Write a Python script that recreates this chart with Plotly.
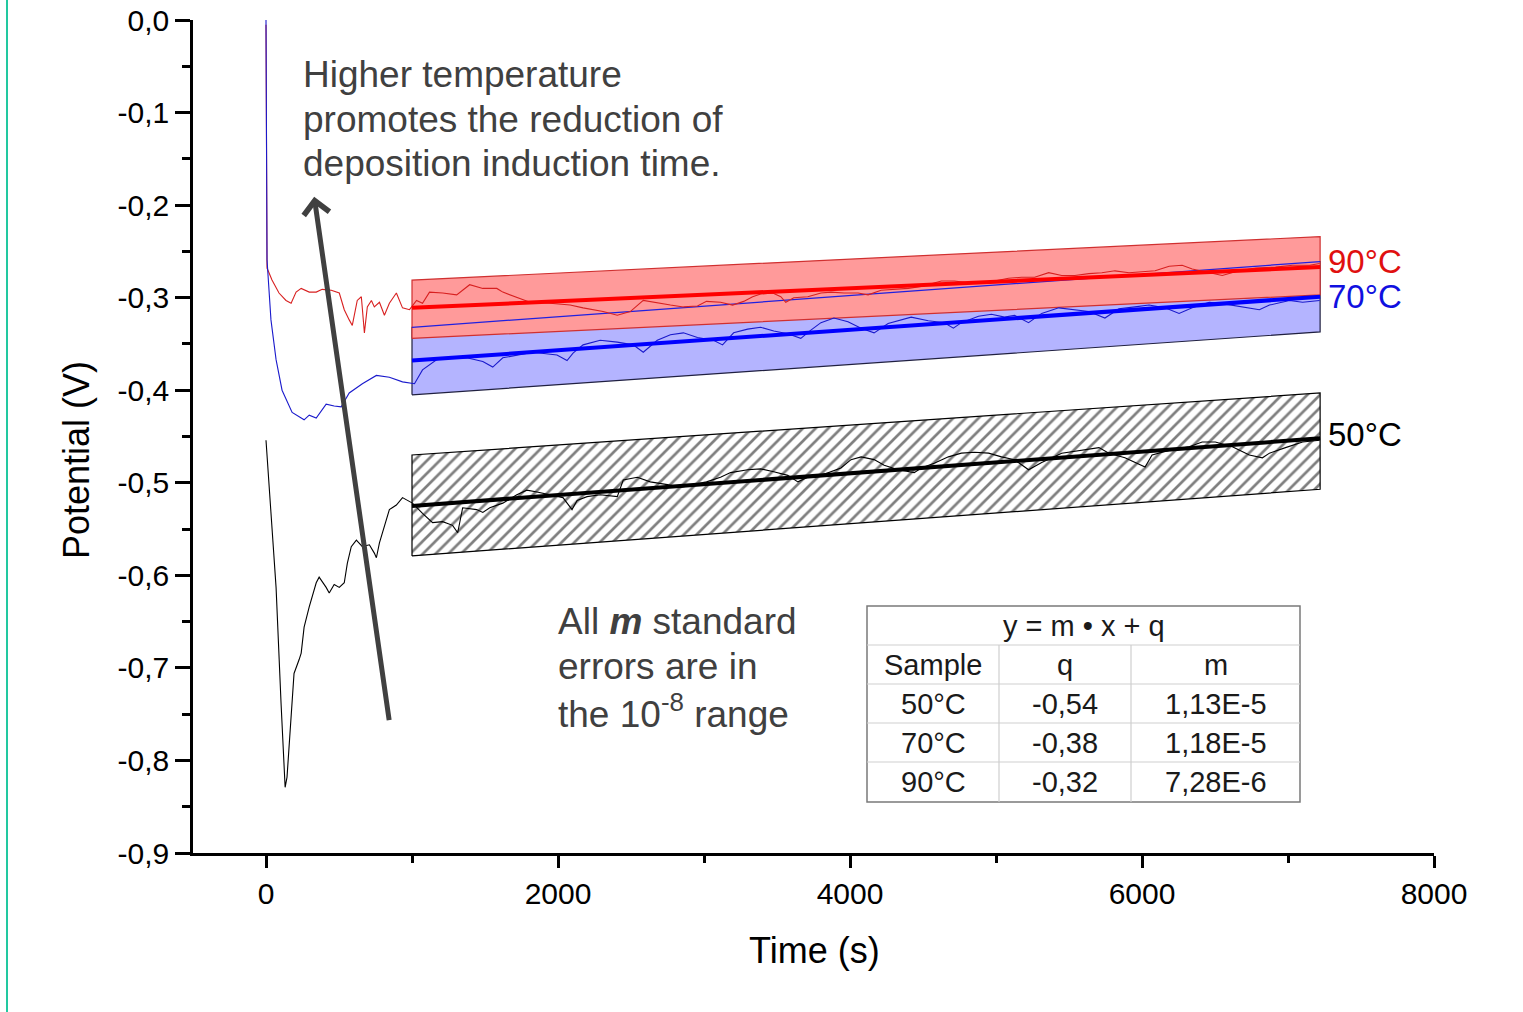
import plotly.graph_objects as go

# ---------------- data ----------------
t50 = [0, 21, 69, 103, 124, 131, 144, 172, 192, 227, 241, 261, 296, 344, 364, 412, 433, 467, 502, 536,
       557, 584, 619, 660, 708, 742, 756, 777, 811, 845, 893, 935, 969, 1003, 1072, 1141, 1210, 1278,
       1313, 1347, 1443, 1485, 1533, 1622, 1718, 1787, 1856, 1945, 2034, 2096, 2131, 2199, 2289, 2406,
       2447, 2543, 2632, 2749, 2838, 2928, 3017, 3113, 3182, 3299, 3388, 3478, 3574, 3643, 3711, 3801,
       3869, 3938, 4007, 4076, 4165, 4234, 4330, 4440, 4488, 4577, 4674, 4763, 4852, 4949, 5038, 5127,
       5223, 5313, 5450, 5588, 5705, 5773, 5883, 6021, 6069, 6186, 6323, 6412, 6502, 6619, 6735, 6825,
       6873, 6983, 7100, 7217]
v50 = [-0.454, -0.505, -0.613, -0.738, -0.821, -0.829, -0.818, -0.756, -0.706, -0.691, -0.684, -0.656,
       -0.634, -0.608, -0.602, -0.613, -0.619, -0.610, -0.613, -0.608, -0.587, -0.569, -0.562, -0.569,
       -0.567, -0.576, -0.581, -0.565, -0.548, -0.529, -0.524, -0.516, -0.519, -0.522, -0.533, -0.543,
       -0.542, -0.546, -0.554, -0.527, -0.529, -0.532, -0.527, -0.522, -0.513, -0.508, -0.510, -0.513,
       -0.516, -0.529, -0.519, -0.515, -0.513, -0.515, -0.497, -0.494, -0.499, -0.502, -0.505, -0.502,
       -0.499, -0.494, -0.489, -0.486, -0.485, -0.488, -0.492, -0.499, -0.494, -0.492, -0.488, -0.484,
       -0.475, -0.472, -0.475, -0.481, -0.486, -0.489, -0.484, -0.479, -0.472, -0.468, -0.467, -0.468,
       -0.472, -0.475, -0.486, -0.478, -0.468, -0.465, -0.462, -0.468, -0.473, -0.483, -0.470, -0.465,
       -0.461, -0.456, -0.456, -0.461, -0.470, -0.473, -0.468, -0.462, -0.456, -0.454]

t70 = [0, 3, 7, 34, 69, 110, 179, 261, 296, 344, 412, 467, 515, 570, 660, 756, 845, 935, 1017, 1072,
       1168, 1258, 1375, 1485, 1553, 1622, 1828, 1993, 2062, 2103, 2172, 2289, 2406, 2515, 2584, 2680,
       2770, 2859, 2955, 3065, 3127, 3203, 3299, 3388, 3478, 3574, 3663, 3732, 3801, 3890, 3986, 4076,
       4165, 4261, 4351, 4419, 4536, 4646, 4708, 4763, 4880, 4969, 5059, 5127, 5223, 5313, 5430, 5519,
       5636, 5746, 5842, 5952, 6048, 6158, 6254, 6344, 6461, 6571, 6687, 6804, 6873, 7010, 7100, 7217]
v70 = [0.000, -0.194, -0.259, -0.324, -0.367, -0.400, -0.424, -0.432, -0.427, -0.430, -0.415, -0.417,
       -0.418, -0.403, -0.393, -0.384, -0.386, -0.391, -0.393, -0.378, -0.367, -0.365, -0.365, -0.369,
       -0.375, -0.365, -0.359, -0.362, -0.368, -0.360, -0.351, -0.346, -0.348, -0.351, -0.359, -0.346,
       -0.340, -0.338, -0.343, -0.346, -0.351, -0.338, -0.334, -0.332, -0.336, -0.339, -0.344, -0.335,
       -0.327, -0.322, -0.326, -0.333, -0.338, -0.328, -0.324, -0.321, -0.325, -0.327, -0.333, -0.327,
       -0.320, -0.318, -0.321, -0.319, -0.327, -0.317, -0.311, -0.313, -0.315, -0.322, -0.312, -0.310,
       -0.308, -0.311, -0.317, -0.311, -0.305, -0.307, -0.310, -0.313, -0.308, -0.303, -0.305, -0.303]

t90 = [0, 7, 41, 89, 137, 172, 206, 241, 296, 344, 385, 447, 502, 536, 570, 591, 625, 653, 674, 694,
       722, 742, 777, 811, 845, 893, 935, 983, 1031, 1072, 1120, 1210, 1306, 1395, 1485, 1581, 1622,
       1718, 1808, 1945, 2083, 2172, 2309, 2406, 2495, 2584, 2680, 2770, 2859, 2955, 3017, 3113, 3196,
       3272, 3333, 3388, 3471, 3526, 3560, 3615, 3711, 3801, 3869, 3959, 4055, 4124, 4213, 4302, 4399,
       4488, 4626, 4715, 4811, 4900, 4990, 5086, 5175, 5265, 5361, 5450, 5540, 5636, 5725, 5815, 5911,
       6000, 6090, 6186, 6275, 6344, 6461, 6550, 6639, 6777, 6914, 7031, 7148, 7217]
v90 = [-0.005, -0.268, -0.281, -0.295, -0.303, -0.306, -0.294, -0.290, -0.294, -0.294, -0.291, -0.292,
       -0.295, -0.313, -0.324, -0.330, -0.303, -0.299, -0.338, -0.310, -0.303, -0.310, -0.305, -0.319,
       -0.306, -0.295, -0.311, -0.313, -0.303, -0.306, -0.294, -0.295, -0.297, -0.286, -0.290, -0.290,
       -0.294, -0.300, -0.305, -0.306, -0.308, -0.311, -0.315, -0.319, -0.315, -0.303, -0.306, -0.308,
       -0.310, -0.309, -0.304, -0.305, -0.308, -0.304, -0.299, -0.296, -0.295, -0.299, -0.305, -0.300,
       -0.299, -0.295, -0.294, -0.295, -0.295, -0.297, -0.292, -0.291, -0.290, -0.288, -0.282, -0.282,
       -0.284, -0.283, -0.282, -0.279, -0.278, -0.278, -0.273, -0.276, -0.276, -0.274, -0.273, -0.271,
       -0.273, -0.272, -0.271, -0.266, -0.265, -0.269, -0.273, -0.276, -0.272, -0.268, -0.267, -0.265,
       -0.265, -0.263]

# fitted lines and confidence bands (start / end of fit window)
fit_t = [1000, 7220]
fit50 = [-0.525, -0.452]
fit70 = [-0.368, -0.299]
fit90 = [-0.311, -0.267]
band50_hi = [-0.470, -0.403]
band50_lo = [-0.579, -0.507]
band70_hi = [-0.332, -0.261]
band70_lo = [-0.405, -0.337]
band90_hi = [-0.281, -0.234]
band90_lo = [-0.344, -0.297]

# table
table_title = "y = m \u2022 x + q"
table_head = ["Sample", "q", "m"]
table_samples = ["50\u00b0C", "70\u00b0C", "90\u00b0C"]
table_q = ["-0,54", "-0,38", "-0,32"]
table_m = ["1,13E-5", "1,18E-5", "7,28E-6"]

ytick_vals = [0.0, -0.1, -0.2, -0.3, -0.4, -0.5, -0.6, -0.7, -0.8, -0.9]
ytick_text = ["0,0", "-0,1", "-0,2", "-0,3", "-0,4", "-0,5", "-0,6", "-0,7", "-0,8", "-0,9"]
yminor_vals = [-0.05, -0.15, -0.25, -0.35, -0.45, -0.55, -0.65, -0.75, -0.85]

# ---------------- layout helpers ----------------
W, H = 1523, 1012
L, R, T, B = 193, 89, 20, 159
PW, PH = W - L - R, H - T - B


def px_x(px):
    return (px - L) / PW


def px_y(py):
    return (H - B - py) / PH


def band(xs, lo, hi):
    return [xs[0], xs[1], xs[1], xs[0], xs[0]], [lo[0], lo[1], hi[1], hi[0], lo[0]]


FONT = "Liberation Sans, Arial, sans-serif"
GREY = "#404040"

fig = go.Figure()

bx, by = band(fit_t, band70_lo, band70_hi)
fig.add_trace(go.Scatter(x=bx, y=by, fill="toself", fillcolor="#b4b4ff", mode="lines",
                         line=dict(color="#202040", width=1.2), hoverinfo="skip"))
bx, by = band(fit_t, band90_lo, band90_hi)
fig.add_trace(go.Scatter(x=bx, y=by, fill="toself", fillcolor="#ff9a9a", mode="lines",
                         line=dict(color="#d03030", width=1.2), hoverinfo="skip"))
bx, by = band(fit_t, band50_lo, band50_hi)
fig.add_trace(go.Scatter(x=bx, y=by, fill="toself", mode="lines",
                         fillpattern=dict(shape="/", size=9, solidity=0.3, fgcolor="black", bgcolor="white"),
                         line=dict(color="black", width=1.2), hoverinfo="skip"))
fig.add_trace(go.Scatter(x=fit_t, y=band70_hi, mode="lines", line=dict(color="#2020e0", width=1.2)))

fig.add_trace(go.Scatter(x=t50, y=v50, mode="lines", line=dict(color="black", width=1.1), name="50°C"))
fig.add_trace(go.Scatter(x=t90, y=v90, mode="lines", line=dict(color="#d82020", width=1.1), name="90°C"))
fig.add_trace(go.Scatter(x=t70, y=v70, mode="lines", line=dict(color="#1a1acc", width=1.1), name="70°C"))

fig.add_trace(go.Scatter(x=fit_t, y=fit50, mode="lines", line=dict(color="black", width=4)))
fig.add_trace(go.Scatter(x=fit_t, y=fit70, mode="lines", line=dict(color="#0000ff", width=4)))
fig.add_trace(go.Scatter(x=fit_t, y=fit90, mode="lines", line=dict(color="#ff0000", width=4)))

annotations = []
# arrow
annotations.append(dict(x=330, y=-0.191, ax=845, ay=-0.758, xref="x", yref="y", axref="x", ayref="y",
                        text="", showarrow=True, arrowhead=4, arrowsize=1.0, arrowwidth=5,
                        arrowcolor=GREY, standoff=0))
# text blocks
for txt, cy in zip(["Higher temperature", "promotes the reduction of", "deposition induction time."],
                   [75, 120, 164]):
    annotations.append(dict(x=px_x(301), y=px_y(cy), xref="paper", yref="paper", xanchor="left",
                            yanchor="middle", text=txt, showarrow=False,
                            font=dict(family=FONT, size=37, color=GREY)))
for txt, cy in zip(["All <b><i>m</i></b> standard", "errors are in", "the 10<sup>-8</sup> range"],
                   [621, 666, 711]):
    annotations.append(dict(x=px_x(556), y=px_y(cy), xref="paper", yref="paper", xanchor="left",
                            yanchor="middle", text=txt, showarrow=False,
                            font=dict(family=FONT, size=37, color=GREY)))
# series labels
for txt, cy, col in zip(["90°C", "70°C", "50°C"], [261, 297, 434], ["#e01010", "#1010e0", "black"]):
    annotations.append(dict(x=px_x(1326), y=px_y(cy), xref="paper", yref="paper", xanchor="left",
                            yanchor="middle", text=txt, showarrow=False,
                            font=dict(family=FONT, size=33, color=col)))
# axis titles
annotations.append(dict(x=px_x(814), y=px_y(950), xref="paper", yref="paper", text="Time (s)",
                        xanchor="center", yanchor="middle",
                        showarrow=False, font=dict(family=FONT, size=36, color="black")))
annotations.append(dict(x=px_x(76), y=px_y(460), xref="paper", yref="paper", text="Potential (V)",
                        xanchor="center", yanchor="middle",
                        textangle=-90, showarrow=False, font=dict(family=FONT, size=36, color="black")))

# table
tx0, tx1 = 867, 1300
ty = [606, 645, 684, 723, 762, 802]
cx = [867, 999, 1131, 1300]
shapes = []
shapes.append(dict(type="rect", xref="paper", yref="paper", x0=px_x(tx0), x1=px_x(tx1),
                   y0=px_y(ty[0]), y1=px_y(ty[-1]), line=dict(color="#7a7a7a", width=1.5),
                   fillcolor="white", layer="above"))
for yy in ty[1:-1]:
    shapes.append(dict(type="line", xref="paper", yref="paper", x0=px_x(tx0), x1=px_x(tx1),
                       y0=px_y(yy), y1=px_y(yy), line=dict(color="#cfcfcf", width=1.2), layer="above"))
for xx in cx[1:-1]:
    shapes.append(dict(type="line", xref="paper", yref="paper", x0=px_x(xx), x1=px_x(xx),
                       y0=px_y(ty[1]), y1=px_y(ty[-1]), line=dict(color="#cfcfcf", width=1.2), layer="above"))
tfont = dict(family=FONT, size=29, color="#1a1a1a")
annotations.append(dict(x=px_x((tx0 + tx1) / 2), y=px_y((ty[0] + ty[1]) / 2), xref="paper", yref="paper",
                        xanchor="center", yanchor="middle",
                        text=table_title, showarrow=False, font=tfont))
rows = [table_head] + [list(r) for r in zip(table_samples, table_q, table_m)]
for ri, row in enumerate(rows):
    cy = (ty[ri + 1] + ty[ri + 2]) / 2
    for ci, val in enumerate(row):
        ccx = (cx[ci] + cx[ci + 1]) / 2
        annotations.append(dict(x=px_x(ccx), y=px_y(cy), xref="paper", yref="paper", text=val,
                                xanchor="center", yanchor="middle",
                                showarrow=False, font=tfont))

# teal slide edge
shapes.append(dict(type="line", xref="paper", yref="paper", x0=px_x(7), x1=px_x(7),
                   y0=px_y(0), y1=px_y(H), line=dict(color="#22c8a0", width=2)))

fig.update_layout(
    width=W, height=H,
    margin=dict(l=L, r=R, t=T, b=B, pad=0, autoexpand=False),
    paper_bgcolor="white", plot_bgcolor="white",
    showlegend=False,
    font=dict(family=FONT, color="black"),
    annotations=annotations,
    shapes=shapes,
    xaxis=dict(range=[-500, 8000], showgrid=False, zeroline=False, showline=True, linecolor="black",
               linewidth=2.5, ticks="outside", ticklen=12, tickwidth=2.5, tickcolor="black",
               tickmode="linear", tick0=0, dtick=2000, ticklabelstandoff=0, automargin=False,
               tickfont=dict(family=FONT, size=30, color="black"),
               minor=dict(ticks="outside", ticklen=7, tickwidth=2.5, tickcolor="black",
                          tickmode="linear", tick0=0, dtick=1000)),
    yaxis=dict(range=[-0.9, 0.0], showgrid=False, zeroline=False, showline=True, linecolor="black",
               linewidth=2.5, ticks="outside", ticklen=15, tickwidth=2.5, tickcolor="black",
               tickmode="array", tickvals=ytick_vals, ticktext=ytick_text, ticklabelstandoff=0,
               automargin=False,
               tickfont=dict(family=FONT, size=30, color="black"),
               minor=dict(ticks="outside", ticklen=8, tickwidth=2.5, tickcolor="black",
                          tickmode="array", tickvals=yminor_vals)),
)

fig.write_html("out.html")
